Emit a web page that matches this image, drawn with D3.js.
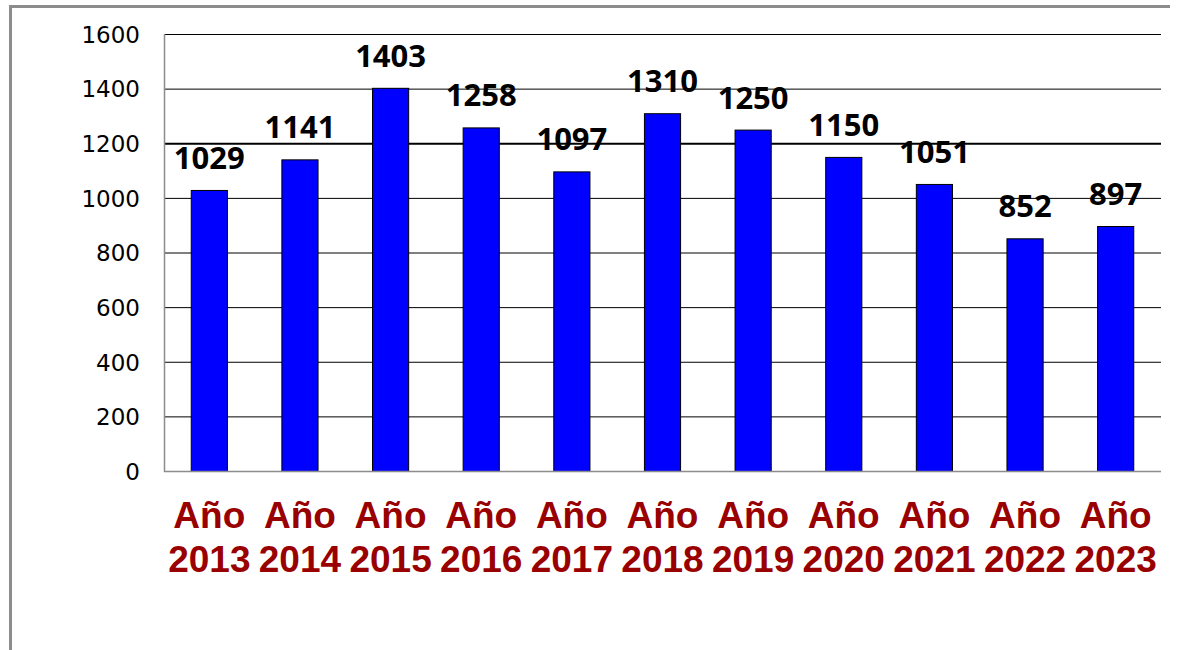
<!DOCTYPE html>
<html><head><meta charset="utf-8">
<script src="https://cdn.jsdelivr.net/npm/d3@7/dist/d3.min.js"></script>
<style>html,body{margin:0;padding:0;background:#fff;}svg{display:block;}</style>
</head><body>
<svg id="c" width="1180" height="650"></svg>
<script>
const years = ["2013","2014","2015","2016","2017","2018","2019","2020","2021","2022","2023"];
const prefix = "Año";
const values = [1029,1141,1403,1258,1097,1310,1250,1150,1051,852,897];
const yTicks = [0,200,400,600,800,1000,1200,1400,1600];

const svg = d3.select("#c");
const L = 164, R = 1161, T = 34, B = 471;

// outer frame (left + top)
svg.append("path").attr("d", "M10.5,650 L10.5,6.5 L1170,6.5")
  .attr("fill","none").attr("stroke","#8c8c8c").attr("stroke-width",3);

const x = d3.scaleBand().domain(years).range([L,R]).paddingInner(0.59).paddingOuter(0.295);
const y = d3.scaleLinear().domain([0,1600]).range([B,T]);

// gridlines
const grid = svg.append("g").attr("transform",`translate(${L},0)`)
  .call(d3.axisLeft(y).tickValues(yTicks.filter(d=>d>0)).tickSize(-(R-L)).tickFormat(""));
grid.select(".domain").remove();
grid.selectAll(".tick line").attr("stroke","#000")
  .attr("stroke-width", d => d===1200 ? 2 : 1);

// y labels
const ya = svg.append("g").attr("transform",`translate(140,0)`)
  .call(d3.axisLeft(y).tickValues(yTicks).tickSize(0).tickPadding(0).tickFormat(d3.format("d")));
ya.select(".domain").remove();
ya.selectAll(".tick text").attr("font-family","DejaVu Sans").attr("font-size",23)
  .attr("fill","#000").attr("dy","0.36em");

// bars
svg.append("g").selectAll("rect").data(values).join("rect")
  .attr("x",(d,i)=>x(years[i])+0.5).attr("y",d=>y(d)+0.5)
  .attr("width",x.bandwidth()-1).attr("height",d=>y(0)-y(d))
  .attr("fill","#0000ff").attr("stroke","#000").attr("stroke-width",1);

// plot frame: left and bottom
svg.append("path").attr("d",`M${L+0.5},${T} L${L+0.5},${B+0.5} L${R},${B+0.5}`)
  .attr("fill","none").attr("stroke","#8c8c8c").attr("stroke-width",1.5);

// value labels
svg.append("g").selectAll("text").data(values).join("text")
  .attr("x",(d,i)=>x(years[i])+x.bandwidth()/2).attr("y",d=>y(d)-21)
  .attr("text-anchor","middle").attr("font-family","Open Sans").attr("font-weight","bold")
  .attr("font-size",31).attr("fill","#000").text(d=>d);

// x labels
const xl = svg.append("g").selectAll("text").data(years).join("text")
  .attr("x",d=>x(d)+x.bandwidth()/2).attr("text-anchor","middle")
  .attr("font-family","Liberation Sans, Arial").attr("font-weight","bold")
  .attr("font-size",37).attr("fill","#990000");
xl.append("tspan").attr("x",d=>x(d)+x.bandwidth()/2).attr("y",528).text(prefix);
xl.append("tspan").attr("x",d=>x(d)+x.bandwidth()/2).attr("y",572).text(d=>d);
</script>
</body></html>
